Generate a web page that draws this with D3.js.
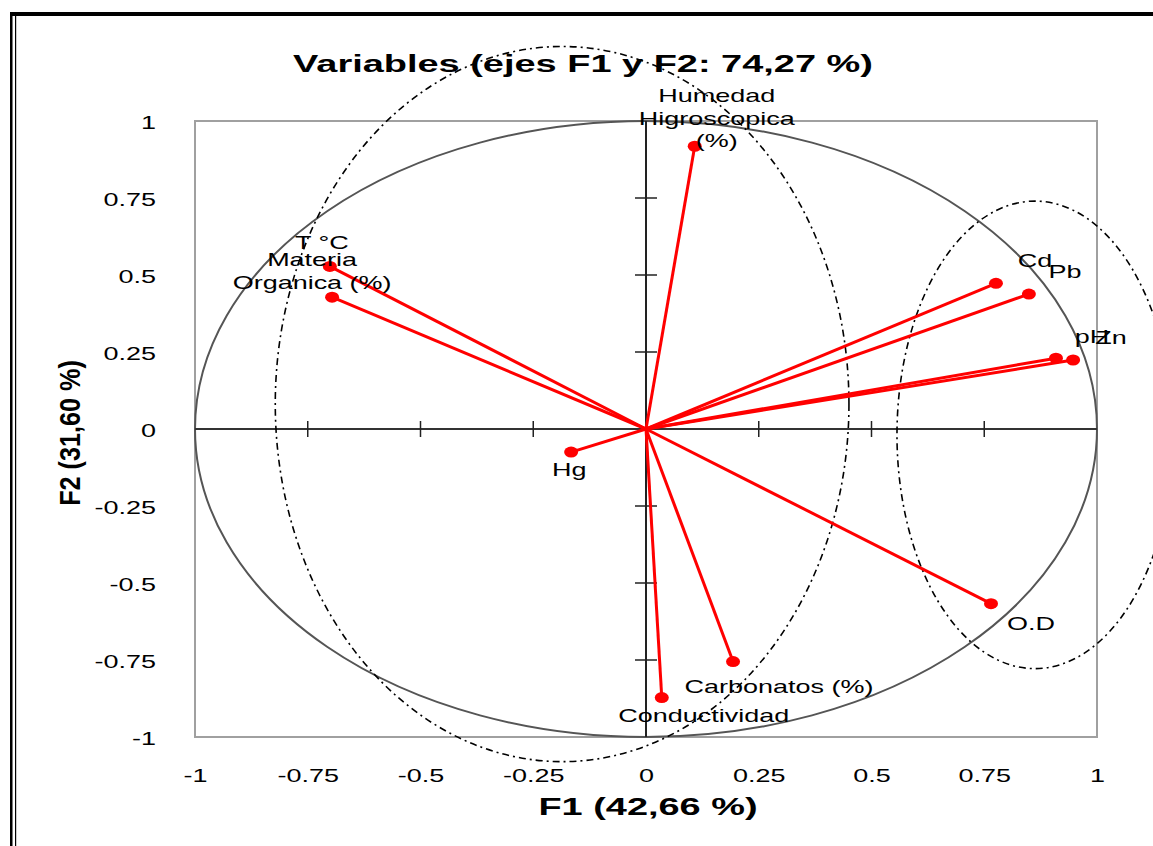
<!DOCTYPE html>
<html>
<head>
<meta charset="utf-8">
<script src="https://cdn.jsdelivr.net/npm/d3@7"></script>
<style>
	body { margin: 0; background: #fff; }
	text { font-family: "Liberation Sans", Arial, sans-serif; fill: #000; }
</style>
</head>
<body>
<div id="chart"></div>
<script>
// variables and their loadings on F1 / F2
var variables = ["Humedad Higroscopica (%)", "T °C", "Materia Organica (%)", "Cd", "Pb", "pH", "Zn", "Hg", "O.D", "Carbonatos (%)", "Conductividad"];
var labelLines = [["Humedad", "Higroscopica", "(%)"], ["T °C"], ["Materia", "Organica (%)"], ["Cd"], ["Pb"], ["pH"], ["Zn"], ["Hg"], ["O.D"], ["Carbonatos (%)"], ["Conductividad"]];
var f1 = [0.108, -0.701, -0.696, 0.776, 0.849, 0.909, 0.947, -0.166, 0.765, 0.193, 0.035];
var f2 = [0.918, 0.528, 0.428, 0.473, 0.438, 0.230, 0.224, -0.075, -0.567, -0.755, -0.872];

// label placement (pixels from the point, first baseline)
var labelDx = [22, -8, -20, 39, 36, 36, 38, -2, 40, 46, 42];
var labelDy = [-44, -17, -31, -16, -16, -15, -16, 24, 26, 31, 24];

// hand drawn group ellipses (data units)
var groupCx = [-0.186, 0.8625];
var groupCy = [0.081, -0.019];
var groupRx = [0.636, 0.306];
var groupRy = [1.161, 0.759];

var tickValues = [-1, -0.75, -0.5, -0.25, 0, 0.25, 0.5, 0.75, 1];
var titleText = "Variables (ejes F1 y F2: 74,27 %)";
var xTitle = "F1 (42,66 %)";
var yTitle = "F2 (31,60 %)";

var W = 1153, H = 846;
var SX = 1.42;   // the picture is stretched sideways
var SXB = 1.65;

var svg = d3.select("#chart").append("svg")
	.attr("width", W)
	.attr("height", H);

// outer frame: thick top, double line on the left
svg.append("rect").attr("x", 10).attr("y", 12).attr("width", W - 10).attr("height", 4).attr("fill", "#000");
svg.append("rect").attr("x", 10).attr("y", 12).attr("width", 2.5).attr("height", H - 12).attr("fill", "#000");
svg.append("rect").attr("x", 15).attr("y", 16).attr("width", 1.2).attr("height", H - 16).attr("fill", "#000");

var x = d3.scaleLinear().domain([-1, 1]).range([195, 1097]);
var y = d3.scaleLinear().domain([-1, 1]).range([737, 121]);

function stretched(sel, tx, ty, sx) {
	return sel.attr("transform", "translate(" + tx + "," + ty + ") scale(" + sx + ",1)");
}

// title
stretched(svg.append("text"), 583, 72, SXB)
	.attr("text-anchor", "middle")
	.style("font-size", "23px")
	.style("font-weight", "bold")
	.text(titleText);

// plot box
svg.append("rect")
	.attr("x", x(-1)).attr("y", y(1))
	.attr("width", x(1) - x(-1)).attr("height", y(-1) - y(1))
	.attr("fill", "none").attr("stroke", "#a0a0a0").attr("stroke-width", 2);

// correlation circle
svg.append("ellipse")
	.attr("cx", x(0)).attr("cy", y(0))
	.attr("rx", x(1) - x(0)).attr("ry", y(0) - y(1))
	.attr("fill", "none").attr("stroke", "#555").attr("stroke-width", 2);

// zero axes
svg.append("line").attr("x1", x(-1)).attr("x2", x(1)).attr("y1", y(0)).attr("y2", y(0))
	.attr("stroke", "#333").attr("stroke-width", 2);
svg.append("line").attr("x1", x(0)).attr("x2", x(0)).attr("y1", y(1)).attr("y2", y(-1))
	.attr("stroke", "#222").attr("stroke-width", 2);

// cross ticks on the zero axes
var inner = tickValues.filter(function(v) { return v !== 0 && Math.abs(v) < 1; });
svg.selectAll(".xt").data(inner).enter().append("line")
	.attr("x1", function(d) { return x(d); }).attr("x2", function(d) { return x(d); })
	.attr("y1", y(0) - 8).attr("y2", y(0) + 8)
	.attr("stroke", "#222").attr("stroke-width", 1.5);
svg.selectAll(".yt").data(inner).enter().append("line")
	.attr("x1", x(0) - 11).attr("x2", x(0) + 11)
	.attr("y1", function(d) { return y(d); }).attr("y2", function(d) { return y(d); })
	.attr("stroke", "#222").attr("stroke-width", 1.5);

// tick labels, outside the box
var yAxis = svg.append("g")
	.attr("transform", "translate(156,0)")
	.call(d3.axisLeft(y).tickValues(tickValues).tickSize(0).tickFormat(function(d) { return String(d); }));
yAxis.select(".domain").remove();
yAxis.selectAll("text")
	.attr("x", 0).attr("dy", null)
	.attr("fill", "#000")
	.style("font-size", "19px")
	.attr("transform", "translate(0,7) scale(" + SX + ",1)");

var xAxis = svg.append("g")
	.attr("transform", "translate(0,782)")
	.call(d3.axisBottom(x).tickValues(tickValues).tickSize(0).tickFormat(function(d) { return String(d); }));
xAxis.select(".domain").remove();
xAxis.selectAll("text")
	.attr("y", 0).attr("dy", null)
	.attr("fill", "#000")
	.style("font-size", "19px")
	.attr("transform", "scale(" + SX + ",1)");

// axis titles
stretched(svg.append("text"), 648, 815, SXB)
	.attr("text-anchor", "middle")
	.style("font-size", "23px")
	.style("font-weight", "bold")
	.text(xTitle);

svg.append("text")
	.attr("transform", "translate(80,433) rotate(-90) scale(1.05,1.2)")
	.attr("text-anchor", "middle")
	.style("font-size", "24px")
	.style("font-weight", "bold")
	.text(yTitle);

// group ellipses, dash-dot
svg.selectAll(".grp").data(groupCx).enter().append("ellipse")
	.attr("cx", function(d, i) { return x(groupCx[i]); })
	.attr("cy", function(d, i) { return y(groupCy[i]); })
	.attr("rx", function(d, i) { return x(groupRx[i]) - x(0); })
	.attr("ry", function(d, i) { return y(0) - y(groupRy[i]); })
	.attr("fill", "none")
	.attr("stroke", "#000")
	.attr("stroke-width", 1.6)
	.attr("stroke-dasharray", "7,4,2,4");

// vectors
var idx = d3.range(variables.length);
svg.selectAll(".vec").data(idx).enter().append("line")
	.attr("x1", x(0)).attr("y1", y(0))
	.attr("x2", function(i) { return x(f1[i]); })
	.attr("y2", function(i) { return y(f2[i]); })
	.attr("stroke", "#ff0000")
	.attr("stroke-width", 3);

svg.selectAll(".pt").data(idx).enter().append("ellipse")
	.attr("cx", function(i) { return x(f1[i]); })
	.attr("cy", function(i) { return y(f2[i]); })
	.attr("rx", 7).attr("ry", 5.5)
	.attr("fill", "#ff0000");

// variable labels
idx.forEach(function(i) {
	var t = stretched(svg.append("text"), x(f1[i]) + labelDx[i], y(f2[i]) + labelDy[i], SX)
		.attr("text-anchor", "middle")
		.style("font-size", "19px")
		.attr("fill", "#111");
	labelLines[i].forEach(function(line, k) {
		t.append("tspan").attr("x", 0).attr("y", k * 22.5).text(line);
	});
});
</script>
</body>
</html>
